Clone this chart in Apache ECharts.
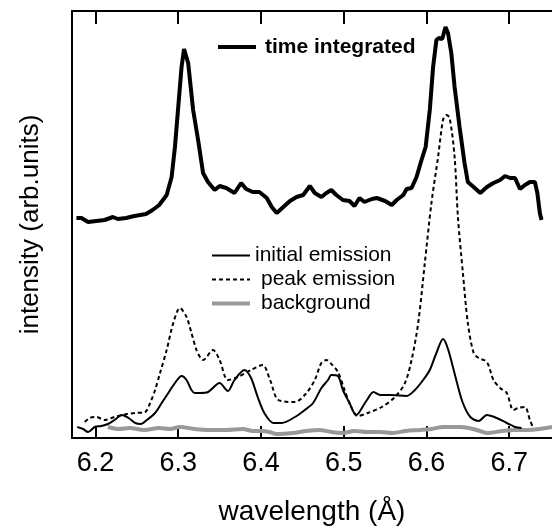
<!DOCTYPE html>
<html>
<head>
    <meta charset="UTF-8">
    <title>spectrum</title>
    <style>
        html, body { margin: 0; padding: 0; background: #fff; }
        #main { width: 552px; height: 527px; }
    </style>
</head>
<body>
<div id="main"></div>
<script src="https://cdn.jsdelivr.net/npm/echarts@6/dist/echarts.min.js"></script>
<script type="text/javascript">

    // ---- data (wavelength in Å, intensity in arb. units)
    var tiWave = [6.177, 6.183, 6.191, 6.201, 6.211, 6.221, 6.227, 6.237, 6.247, 6.261, 6.269, 6.277, 6.286, 6.292,
        6.296, 6.300, 6.304, 6.307, 6.312, 6.318, 6.324, 6.330, 6.336, 6.344, 6.350, 6.358, 6.368, 6.376, 6.382,
        6.390, 6.398, 6.407, 6.413, 6.419, 6.427, 6.435, 6.443, 6.451, 6.459, 6.465, 6.473, 6.479, 6.485, 6.491,
        6.499, 6.507, 6.513, 6.519, 6.525, 6.534, 6.540, 6.550, 6.558, 6.564, 6.572, 6.576, 6.582, 6.588, 6.594,
        6.599, 6.604, 6.608, 6.612, 6.615, 6.619, 6.623, 6.626, 6.630, 6.634, 6.640, 6.646, 6.650, 6.657, 6.665,
        6.673, 6.681, 6.689, 6.695, 6.701, 6.707, 6.713, 6.719, 6.725, 6.731, 6.734, 6.737, 6.739];
    var tiVal = [220, 220, 216, 217, 218, 221, 219, 220, 222, 224, 228, 233, 243, 261,
        291, 331, 371, 389, 375, 328, 298, 265, 256, 248, 252, 250, 245, 255, 249,
        246, 246, 240, 231, 225, 231, 237, 241, 243, 252, 245, 241, 245, 248, 243,
        238, 237, 232, 240, 236, 239, 240, 237, 233, 238, 243, 249, 250, 261, 278,
        291, 328, 371, 398, 400, 399, 411, 405, 385, 351, 311, 275, 256, 251, 245,
        251, 255, 258, 262, 260, 260, 249, 253, 256, 256, 245, 225, 218];

    var initWave = [6.178, 6.185, 6.191, 6.199, 6.207, 6.215, 6.223, 6.232, 6.240, 6.248, 6.255, 6.262, 6.272,
        6.280, 6.288, 6.296, 6.304, 6.310, 6.316, 6.320, 6.326, 6.336, 6.350, 6.360, 6.368, 6.380, 6.388, 6.396,
        6.404, 6.415, 6.425, 6.441, 6.453, 6.463, 6.473, 6.481, 6.485, 6.493, 6.499, 6.507, 6.515, 6.519, 6.528,
        6.536, 6.544, 6.558, 6.576, 6.586, 6.596, 6.604, 6.612, 6.620, 6.626, 6.636, 6.644, 6.653, 6.663, 6.673,
        6.685, 6.697, 6.707, 6.715];
    var initVal = [11, 9, 6, 11, 12, 14, 18, 23, 20, 15, 14, 18, 25,
        35, 45, 55, 62, 58, 48, 45, 45, 46, 55, 47, 58, 68, 60, 41,
        25, 15, 15, 21, 28, 35, 50, 58, 63, 62, 48, 35, 23, 26, 38,
        46, 43, 43, 42, 48, 58, 68, 85, 99, 89, 58, 35, 21, 17, 23,
        20, 15, 11, 10];

    var peakWave = [6.187, 6.193, 6.201, 6.211, 6.223, 6.238, 6.248, 6.260, 6.266, 6.272, 6.278, 6.286, 6.294,
        6.302, 6.310, 6.316, 6.322, 6.327, 6.330, 6.342, 6.350, 6.360, 6.372, 6.388, 6.402, 6.411, 6.421, 6.441,
        6.455, 6.465, 6.473, 6.479, 6.485, 6.493, 6.501, 6.509, 6.517, 6.529, 6.546, 6.562, 6.574, 6.582, 6.590,
        6.598, 6.606, 6.614, 6.620, 6.624, 6.628, 6.634, 6.638, 6.644, 6.650, 6.657, 6.663, 6.673, 6.681, 6.689,
        6.697, 6.705, 6.711, 6.719, 6.725, 6.729];
    var peakVal = [16, 20, 21, 18, 21, 24, 25, 26, 35, 48, 65, 88, 115,
        130, 121, 105, 88, 80, 78, 88, 78, 58, 61, 68, 73, 58, 38, 36,
        45, 58, 75, 78, 74, 66, 48, 31, 22, 25, 31, 41, 55, 78, 115,
        175, 235, 281, 318, 323, 320, 281, 221, 165, 115, 85, 80, 76, 58, 50,
        45, 28, 30, 31, 18, 10];

    var bgWave = [6.215, 6.228, 6.241, 6.259, 6.277, 6.290, 6.302, 6.320, 6.338, 6.358, 6.378, 6.390, 6.402,
        6.410, 6.419, 6.438, 6.455, 6.471, 6.485, 6.499, 6.513, 6.528, 6.544, 6.559, 6.575, 6.592, 6.606, 6.620,
        6.640, 6.651, 6.661, 6.673, 6.692, 6.707, 6.721, 6.736, 6.752];
    var bgVal = [11, 9, 10, 8, 10, 9, 11, 9, 8, 8, 9, 7, 7,
        6, 4, 5, 7, 8, 6, 5, 7, 6, 6, 5, 7, 8, 9, 11,
        11, 10, 8, 5, 7, 8, 8, 9, 11];

    var xTicks = [6.2, 6.3, 6.4, 6.5, 6.6, 6.7];

    function pairs(xs, ys) {
        var out = [];
        for (var i = 0; i < xs.length; i++) {
            out.push([xs[i], ys[i]]);
        }
        return out;
    }

    var FONT = '"Liberation Sans", Arial, Helvetica, sans-serif';
    // the legend draws a dot on line series with no symbol, hide it
    var noDot = {opacity: 0};

    var myChart = echarts.init(document.getElementById('main'), null, {renderer: 'canvas'});

    var option = {
        animation: false,
        backgroundColor: '#ffffff',
        textStyle: {fontFamily: FONT},
        grid: {
            left: 72,
            top: 11,
            right: 0,
            bottom: 89,
            containLabel: false,
            outerBoundsMode: 'none'
        },
        //---- two legends: the bold one at the top and the block of three
        legend: [
            {
                left: 211,
                top: 30,
                itemWidth: 38,
                itemHeight: 14,
                selectedMode: false,
                textStyle: {fontSize: 21, fontWeight: 'bold', color: '#000', lineHeight: 24, padding: [0, 0, 0, 4], fontFamily: FONT},
                data: [
                    {name: 'time integrated', itemStyle: noDot, lineStyle: {width: 4, color: '#000'}}
                ]
            },
            {
                left: 205,
                top: 239,
                orient: 'vertical',
                itemWidth: 38,
                itemHeight: 14,
                itemGap: 1,
                selectedMode: false,
                textStyle: {fontSize: 21, color: '#000', lineHeight: 23, fontFamily: FONT},
                data: [
                    {name: 'initial emission', itemStyle: noDot, lineStyle: {width: 2, color: '#000'}},
                    {name: 'peak emission', itemStyle: noDot, lineStyle: {width: 2, color: '#000', type: [4, 3]}, textStyle: {padding: [0, 0, 0, 6]}},
                    {name: 'background', itemStyle: noDot, lineStyle: {width: 4, color: '#999'}, textStyle: {padding: [0, 0, 0, 6]}}
                ]
            }
        ],
        xAxis: [
            {
                type: 'value',
                position: 'bottom',
                min: 6.1716,
                max: 6.7517,
                name: 'wavelength (Å)',
                nameLocation: 'middle',
                nameGap: 60,
                nameTextStyle: {fontSize: 28, color: '#000', fontFamily: FONT},
                axisLine: {show: true, onZero: false, lineStyle: {color: '#000', width: 2}},
                axisTick: {show: true, inside: true, length: 12, customValues: xTicks, lineStyle: {color: '#000', width: 2}},
                axisLabel: {
                    show: true, margin: 12, fontSize: 27, color: '#000', fontFamily: FONT,
                    customValues: xTicks,
                    formatter: function (v) { return v.toFixed(1); }
                },
                splitLine: {show: false}
            },
            {
                type: 'value',
                position: 'top',
                min: 6.1716,
                max: 6.7517,
                axisLine: {show: true, onZero: false, lineStyle: {color: '#000', width: 2}},
                axisTick: {show: true, inside: true, length: 13, customValues: xTicks, lineStyle: {color: '#000', width: 2}},
                axisLabel: {show: false},
                splitLine: {show: false}
            }
        ],
        yAxis: {
            type: 'value',
            min: 0,
            max: 427,
            name: 'intensity (arb.units)',
            nameLocation: 'middle',
            nameGap: 28,
            nameTextStyle: {fontSize: 26, color: '#000', fontFamily: FONT},
            axisLine: {show: true, onZero: false, lineStyle: {color: '#000', width: 2}},
            axisTick: {show: false},
            axisLabel: {show: false},
            splitLine: {show: false}
        },
        series: [
            {
                name: 'background',
                type: 'line',
                symbol: 'none',
                smooth: 0.3,
                lineStyle: {color: '#999', width: 4},
                itemStyle: {color: '#999'},
                data: pairs(bgWave, bgVal)
            },
            {
                name: 'time integrated',
                type: 'line',
                symbol: 'none',
                lineStyle: {color: '#000', width: 4},
                itemStyle: {color: '#000'},
                data: pairs(tiWave, tiVal)
            },
            {
                name: 'peak emission',
                type: 'line',
                symbol: 'none',
                smooth: 0.3,
                lineStyle: {color: '#000', width: 2, type: [4, 3]},
                itemStyle: {color: '#000'},
                data: pairs(peakWave, peakVal)
            },
            {
                name: 'initial emission',
                type: 'line',
                symbol: 'none',
                smooth: 0.3,
                lineStyle: {color: '#000', width: 2},
                itemStyle: {color: '#000'},
                data: pairs(initWave, initVal)
            }
        ]
    };
    myChart.setOption(option);

</script>
</body>
</html>
